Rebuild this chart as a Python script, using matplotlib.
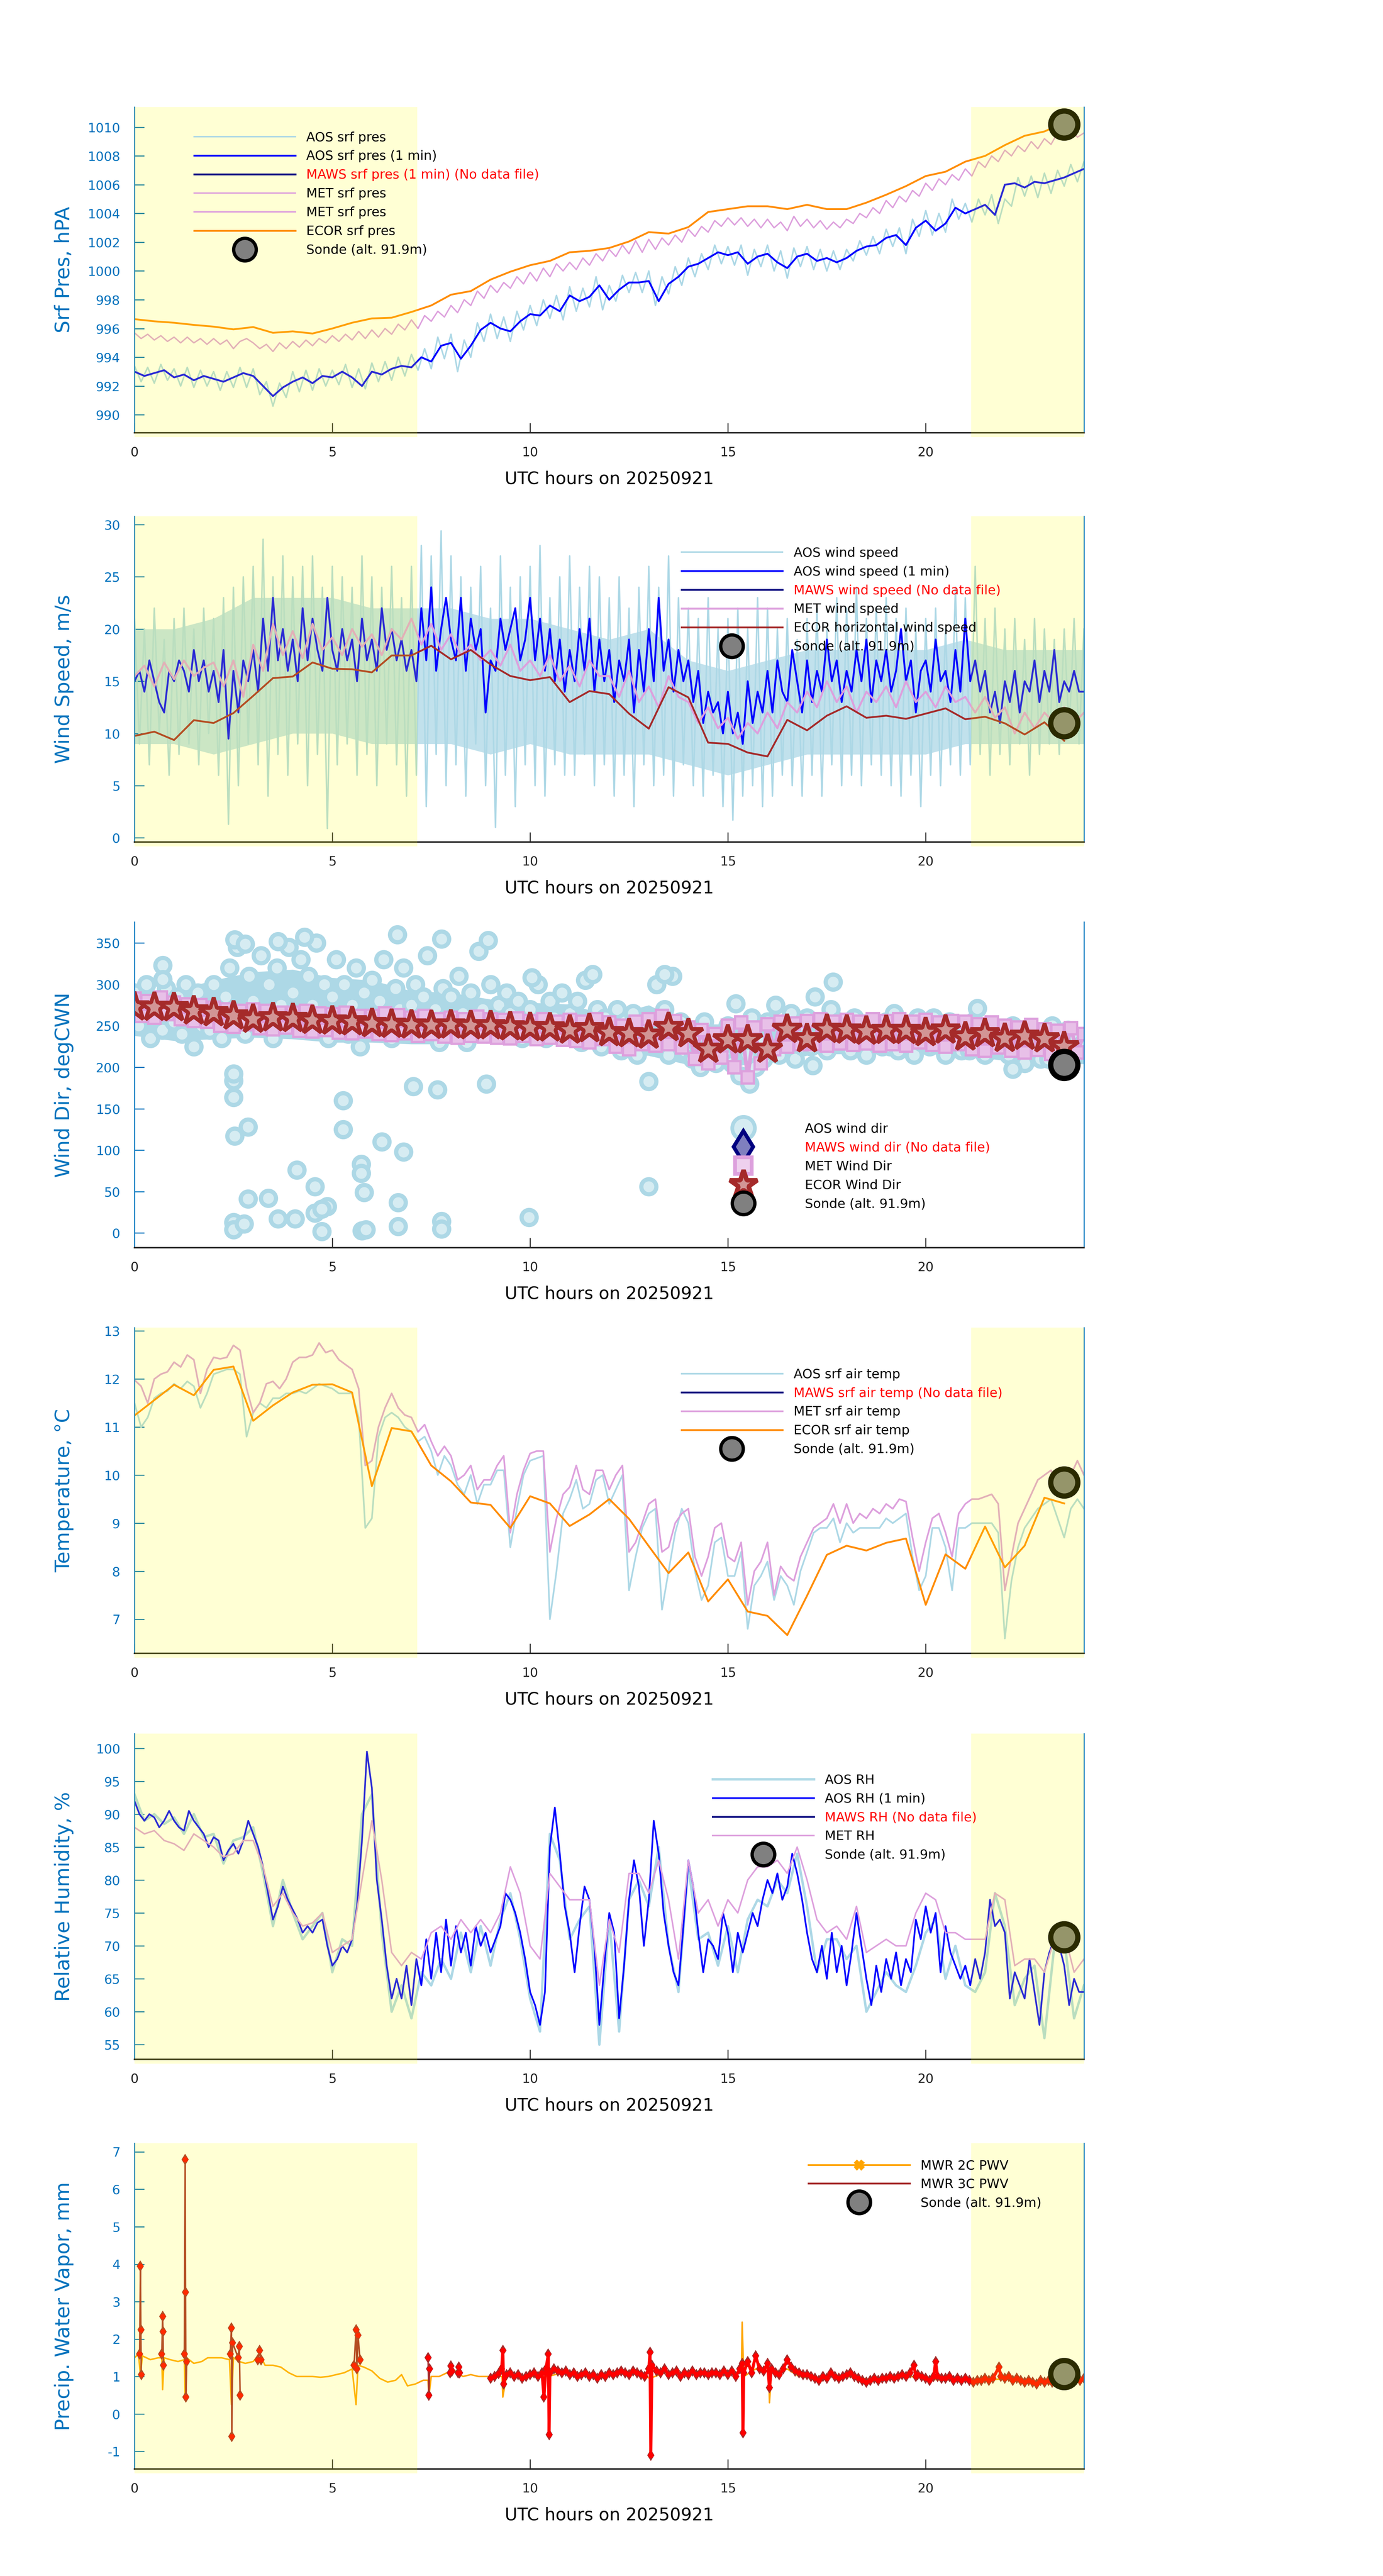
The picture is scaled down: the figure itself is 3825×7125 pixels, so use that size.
import numpy as np
import matplotlib
matplotlib.use("Agg")
import matplotlib.pyplot as plt
from matplotlib.lines import Line2D

plt.rcParams["axes.unicode_minus"] = False
nan = np.nan

# ---------------- data ----------------
night = [(0.0, 7.15), (21.15, 24.0)]
sonde_t = 23.5

# surface pressure, hPa
aos_pres = [993.4, 992.3, 993.3, 992.2, 993.5, 992.4,
            993.2, 992.0, 993.3, 991.9, 993.1, 992.0,
            993.0, 991.7, 993.0, 991.9, 993.3, 991.9,
            993.2, 991.4, 992.3, 990.6, 992.2, 991.2,
            993.0, 991.6, 993.1, 991.7, 993.2, 992.0,
            993.1, 992.1, 993.5, 991.9, 993.2, 991.8,
            993.6, 992.3, 993.7, 992.4, 994.0, 992.7,
            994.2, 993.1, 994.6, 993.2, 995.4, 993.9,
            995.6, 993.0, 995.2, 994.0, 996.4, 995.1,
            997.0, 995.3, 996.8, 995.1, 997.2, 995.9,
            997.6, 996.2, 998.0, 996.7, 998.3, 996.6,
            998.9, 997.2, 998.8, 997.5, 999.6, 997.3,
            999.0, 997.9, 999.7, 998.5, 999.9, 998.5,
            1000.0, 997.6, 999.6, 998.4, 1000.3, 999.0,
            1000.9, 999.6, 1001.2, 1000.1, 1001.8, 1000.5,
            1001.7, 1000.4, 1001.8, 999.7, 1001.5, 1000.3,
            1001.8, 1000.0, 1001.4, 999.5, 1001.6, 1000.3,
            1001.7, 1000.1, 1001.5, 1000.0, 1001.4, 1000.1,
            1001.5, 1000.7, 1002.1, 1001.1, 1002.4, 1001.2,
            1002.9, 1001.7, 1003.0, 1001.2, 1003.6, 1002.4,
            1004.2, 1002.5, 1004.0, 1002.7, 1005.0, 1003.6,
            1004.7, 1003.4, 1005.0, 1003.9, 1005.3, 1003.3,
            1005.0, 1004.5, 1006.5, 1005.2, 1006.6, 1005.1,
            1006.8, 1005.4, 1007.0, 1005.9, 1007.4, 1006.2, 1007.6]
aos_pres_1min = [993.0, 992.7, 992.9, 993.1, 992.6, 992.8, 992.4, 992.7,
                 992.5, 992.3, 992.6, 992.9, 992.7, 992.0, 991.3, 991.9,
                 992.3, 992.6, 992.2, 992.7, 992.6, 993.0, 992.6, 992.0,
                 993.0, 992.8, 993.2, 993.4, 993.3, 994.0, 993.7, 994.8,
                 995.0, 993.9, 994.8, 995.9, 996.4, 996.0, 995.8, 996.5,
                 997.0, 996.9, 997.6, 997.2, 998.3, 997.9, 998.2, 999.0,
                 998.0, 998.7, 999.2, 999.2, 999.3, 997.9, 999.1, 999.6,
                 1000.3, 1000.5, 1000.9, 1001.3, 1001.1, 1001.3, 1000.5, 1001.0,
                 1001.2, 1000.6, 1000.2, 1001.0, 1001.2, 1000.7, 1000.9, 1000.6,
                 1000.9, 1001.4, 1001.7, 1001.8, 1002.3, 1002.5, 1001.8, 1003.0,
                 1003.5, 1002.8, 1003.3, 1004.4, 1004.0, 1004.3, 1004.6, 1003.9,
                 1006.0, 1006.1, 1005.8, 1006.2, 1006.1, 1006.3, 1006.5, 1006.8,
                 1007.1]
met_pres = [995.7, 995.3, 995.6, 995.2, 995.5, 995.1,
            995.4, 995.0, 995.4, 995.0, 995.3, 994.9,
            995.3, 994.9, 995.2, 994.6, 995.1, 995.3,
            995.0, 994.6, 994.9, 994.4, 995.0, 994.6,
            995.1, 994.7, 995.2, 994.8, 995.3, 995.0,
            995.5, 995.1, 995.6, 995.2, 995.8, 995.3,
            995.9, 995.4, 996.0, 995.6, 996.3, 995.9,
            996.6, 996.0, 996.9, 996.5, 997.2, 996.8,
            997.6, 997.1, 998.0, 997.6, 998.6, 998.1,
            999.0, 998.5, 999.2, 998.8, 999.6, 999.1,
            999.9, 999.3, 1000.2, 999.6, 1000.5, 1000.0,
            1000.6, 1000.1, 1000.9, 1000.4, 1001.2, 1000.7,
            1001.5, 1001.0, 1001.8, 1001.2, 1002.1, 1001.3,
            1002.2, 1001.5, 1002.3, 1001.8, 1002.5, 1002.0,
            1002.9, 1002.4, 1003.1, 1002.7, 1003.5, 1003.1,
            1003.7, 1003.2, 1003.7, 1003.1, 1003.6, 1003.0,
            1003.6, 1003.0, 1003.4, 1002.8, 1003.8, 1003.1,
            1003.6, 1003.0, 1003.5, 1002.9, 1003.4, 1003.0,
            1003.6, 1003.3, 1004.0, 1003.7, 1004.4, 1004.0,
            1004.9, 1004.4, 1005.2, 1004.8, 1005.6, 1005.2,
            1006.1, 1005.6, 1006.4, 1006.0, 1006.7, 1006.3,
            1007.1, 1006.6, 1007.6, 1007.2, 1008.0, 1007.6,
            1008.4, 1008.0, 1008.7, 1008.3, 1009.0, 1008.5,
            1009.2, 1008.8, 1009.6, 1009.2, 1009.9, 1009.3, 1009.6]
ecor_pres = [996.65, 996.5, 996.4, 996.25, 996.13, 995.94, 996.1, 995.7,
             995.8, 995.65, 996.0, 996.4, 996.7, 996.75, 997.15, 997.6,
             998.35, 998.6, 999.4, 999.95, 1000.4, 1000.7, 1001.3, 1001.4,
             1001.6, 1002.05, 1002.7, 1002.6, 1003.05, 1004.1, 1004.3, 1004.5,
             1004.5, 1004.3, 1004.6, 1004.3, 1004.3, 1004.75, 1005.3, 1005.9,
             1006.6, 1006.9, 1007.6, 1008.0, 1008.75, 1009.4, 1009.7, 1010.3]
sonde_pres = 1010.2

# wind speed, m/s
aos_ws = [21, 9, 20, 7, 22, 10, 19, 6,
          21, 8, 22, 9, 20, 7, 22, 10,
          21, 6, 23, 1.3, 24, 5, 25, 9,
          26, 7, 28.6, 4, 25, 8, 27, 6,
          25, 9, 26, 5, 27, 8, 24, 0.9,
          26, 7, 25, 9, 24, 6, 27, 8,
          25, 5, 24, 9, 26, 7, 23, 4,
          26, 6, 28, 3, 27, 8, 29.4, 5,
          27, 7, 25, 4, 24, 9, 26, 5,
          22, 1, 27, 6, 24, 3, 25, 7,
          26, 5, 28, 4, 23, 7, 25, 6,
          27, 6, 24, 8, 26, 5, 25, 7,
          23, 4, 25, 6, 22, 3, 24, 7,
          26, 5, 24, 6, 27, 4, 23, 7,
          22, 5, 21, 4, 23, 6, 20, 3,
          21, 1.7, 22, 4, 20, 5, 23, 3,
          22, 4, 20, 6, 21, 5, 19, 4,
          21, 6, 22, 4, 20, 7, 23, 5,
          22, 6, 24, 5, 21, 7, 22, 6,
          23, 5, 21, 4, 22, 6, 20, 3,
          21, 6, 22, 5, 20, 7, 24, 6,
          23, 7, 26, 8, 21, 6, 22, 8,
          20, 7, 21, 9, 19, 6, 21, 8,
          20, 9, 19, 8, 20, 10, 21, 9, 20]
# dense core of the 1 s wind speed trace (hourly low / high)
aos_ws_core_lo = [9, 9, 8, 9, 10, 10, 9, 9, 9, 8, 9, 8, 8,
                  8, 7, 6, 7, 8, 8, 8, 8, 9, 9, 9, 9]
aos_ws_core_hi = [20, 20, 21, 23, 23, 23, 22, 22, 22, 21, 21, 20, 19,
                  20, 17, 16, 17, 18, 18, 18, 18, 19, 18, 18, 18]
aos_ws_1min = [15, 16, 14, 17, 15, 13, 12, 16,
               15, 17, 16, 14, 18, 15, 17, 14,
               16, 13, 18, 9.5, 16, 12, 17, 15,
               18, 14, 21, 16, 23, 17, 20, 16,
               19, 15, 22, 17, 21, 18, 16, 23,
               18, 16, 20, 17, 19, 15, 21, 17,
               19, 16, 22, 18, 20, 17, 19, 16,
               18, 15, 22, 17, 24, 16, 20, 23,
               19, 17, 23, 16, 21, 18, 20, 12,
               17, 16, 21, 18, 20, 22, 17, 19,
               23, 17, 21, 16, 20, 15, 19, 14,
               18, 15, 20, 16, 21, 14, 19, 15,
               18, 13, 17, 15, 19, 12, 18, 14,
               20, 15, 23, 16, 19, 14, 18, 15,
               17, 13, 16, 11, 14, 12, 13, 10,
               14, 10, 12, 9, 15, 11, 14, 12,
               16, 12, 17, 14, 13, 18, 15, 12,
               17, 13, 16, 14, 19, 15, 17, 13,
               16, 14, 18, 15, 19, 13, 17, 15,
               18, 14, 16, 20, 15, 17, 12, 16,
               17, 14, 19, 15, 16, 13, 18, 14,
               21, 15, 17, 14, 16, 12, 14, 11,
               15, 13, 16, 12, 15, 14, 17, 13,
               16, 14, 18, 13, 15, 14, 16, 14, 14]
met_ws = [15.5, 16.5, 14.5, 16.8, 15.2, 17.0, 15.5, 16.3,
          16.8, 14.5, 17.0, 13.5, 18.5, 16.0, 20.5, 17.5,
          19.8, 17.2, 20.5, 18.0, 19.2, 17.5, 20.0, 18.3,
          19.5, 17.5, 20.0, 19.0, 21.0, 18.5, 20.5, 18.0,
          19.5, 17.5, 18.5, 17.0, 18.0, 16.5, 18.5, 16.0,
          17.0, 15.5, 17.5, 15.0, 16.5, 14.5, 17.0, 15.5,
          15.5, 13.5, 16.0, 13.0, 14.5, 12.5, 15.5, 13.5,
          13.0, 11.0, 12.5, 10.5, 11.5, 9.5, 11.0, 10.0,
          12.0, 10.5, 13.0, 12.0, 14.0, 12.5, 15.0, 13.0,
          14.5, 12.0, 14.0, 13.0, 14.5, 12.5, 15.0, 13.0,
          14.0, 12.5, 14.5, 13.0, 13.5, 12.0, 13.5, 11.5,
          12.5, 10.0, 12.0, 10.5, 12.0, 11.0, 12.5, 11.0, 12.0]
ecor_ws = [9.76, 10.17, 9.37, 11.27, 11.0, 11.95, 13.6, 15.3, 15.45, 16.8,
           16.2, 16.15, 15.85, 17.47, 17.47, 18.4, 17.1, 18.0, 16.6, 15.5,
           15.1, 15.4, 13.0, 14.06, 13.77, 11.9, 10.46, 14.43, 13.45, 9.12,
           9.0, 8.17, 7.8, 11.3, 10.3, 11.7, 12.6, 11.5, 11.7, 11.4,
           11.9, 12.4, 11.36, 11.6, 10.97, 9.9, 11.07, 9.3]
sonde_ws = 11.0

# wind direction, deg
aos_dir = [290, 250, 270, 300, 235, 280, 260, 245, 295, 265,
           255, 285, 240, 300, 270, 225, 290, 250, 275, 245,
           300, 260, 235, 285, 320, 250, 345, 270, 240, 310,
           280, 250, 335, 265, 300, 235, 320, 275, 255, 345,
           290, 260, 330, 245, 310, 275, 350, 250, 300, 235,
           285, 330, 255, 300, 240, 275, 320, 225, 290, 260,
           305, 245, 280, 330, 260, 235, 295, 270, 320, 250,
           275, 300, 240, 285, 335, 255, 270, 230, 295, 260,
           285, 245, 310, 265, 230, 290, 255, 340, 270, 240,
           300, 255, 275, 240, 290, 265, 250, 280, 235, 260,
           270, 245, 300, 255, 235, 280, 260, 240, 290, 250,
           265, 240, 280, 230, 305, 255, 245, 270, 225, 260,
           250, 235, 270, 220, 255, 240, 265, 215, 245, 230,
           260, 225, 300, 240, 270, 215, 310, 235, 255, 220,
           245, 210, 235, 200, 255, 220, 240, 205, 230, 215,
           250, 205, 235, 190, 245, 215, 260, 200, 230, 210,
           255, 220, 275, 215, 245, 230, 265, 210, 250, 225,
           260, 225, 285, 235, 250, 220, 270, 240, 255, 230,
           250, 220, 260, 230, 245, 215, 255, 235, 240, 225,
           255, 225, 265, 220, 245, 235, 250, 215, 260, 230,
           250, 225, 260, 235, 245, 215, 255, 230, 240, 220,
           245, 220, 255, 230, 240, 215, 250, 225, 235, 245,
           240, 215, 250, 225, 235, 205, 245, 220, 230, 210,
           240, 210, 250, 220, 230, 200, 245, 215, 235, 225, 230]
# dense core of the AOS wind direction cloud (hourly low / high)
aos_dir_core_lo = [238, 232, 234, 236, 234, 230, 230, 228, 228, 230, 230, 227,
                   218, 214, 203, 198, 210, 216, 216, 216, 216, 214, 208, 204, 204]
aos_dir_core_hi = [292, 292, 305, 315, 318, 308, 305, 292, 290, 282, 278, 276,
                   262, 275, 252, 252, 262, 266, 260, 260, 258, 256, 250, 246, 244]
aos_dir_out_t = [0.71, 0.71, 2.5, 2.5, 2.5, 2.53, 2.87, 2.5, 2.5, 2.77, 2.87,
                 3.38, 3.63, 4.1, 4.06, 4.56, 4.56, 4.73, 4.87, 4.73, 5.27,
                 5.27, 5.73, 5.73, 5.8, 5.75, 5.85, 6.25, 6.8, 6.66, 6.66,
                 7.05, 7.66, 7.76, 7.76, 8.89, 9.97, 13.0, 13.0, 15.55, 17.15,
                 22.2, 6.64, 7.76, 8.94, 4.3, 3.63, 2.53, 2.8, 13.4, 11.58,
                 10.04, 17.66, 21.3, 15.2]
aos_dir_out = [323, 306, 164, 184, 192, 117, 128, 13, 4, 11, 41,
               42, 17, 76, 17, 56, 24, 2, 32, 29, 125,
               160, 83, 72, 49, 3, 4, 110, 98, 37, 8,
               177, 173, 14, 5, 180, 19, 56, 183, 180, 202,
               198, 360, 355, 353, 357, 352, 354, 349, 312, 312,
               308, 303, 271, 277]
met_dir = [283, 262, 280, 260, 284, 264,
           278, 258, 276, 256, 275, 255,
           272, 250, 270, 249, 268, 252,
           270, 247, 268, 246, 266, 248,
           266, 244, 268, 243, 265, 245,
           264, 242, 266, 241, 262, 243,
           262, 240, 265, 239, 263, 241,
           260, 238, 262, 240, 258, 237,
           260, 236, 258, 238, 261, 237,
           258, 236, 257, 235, 259, 238,
           256, 234, 258, 236, 255, 233,
           257, 232, 255, 230, 258, 234,
           254, 225, 250, 222, 255, 228,
           258, 226, 262, 228, 256, 224,
           248, 210, 245, 205, 240, 212,
           250, 200, 254, 188, 248, 205,
           252, 222, 255, 225, 253, 228,
           256, 228, 258, 226, 255, 229,
           257, 227, 255, 229, 258, 226,
           256, 228, 258, 226, 255, 230,
           257, 227, 254, 225, 256, 228,
           255, 222, 252, 220, 254, 224,
           250, 220, 248, 218, 251, 221,
           246, 216, 244, 215, 247, 218, 240]
ecor_dir = [273, 272.5, 272, 268, 266, 262, 258, 259.6, 259, 256.6, 256, 255,
            253, 252, 251, 250.5, 251, 250, 250, 249, 248, 247.4, 245, 246.8,
            242, 240.7, 239, 248, 240.7, 222, 233, 233, 222, 246, 234.6, 246,
            245, 243.7, 244.6, 244.6, 242, 245, 236.7, 240.7, 235, 237.6, 234.6, 225]
sonde_dir = 203

# air temperature, degC
aos_temp = [11.5, 11.0, 11.2, 11.6, 11.7, 11.75,
            11.9, 11.8, 11.95, 11.85, 11.4, 11.7,
            12.1, 12.15, 12.2, 12.2, 12.1, 10.8,
            11.3, 11.5, 11.4, 11.6, 11.6, 11.7,
            11.7, 11.75, 11.7, 11.8, 11.9, 11.85,
            11.8, 11.7, 11.7, 11.7, 11.2, 8.9,
            9.1, 10.8, 11.2, 11.3, 11.2, 11.0,
            10.9, 10.7, 10.8, 10.5, 10.0, 10.4,
            10.2, 9.8, 9.6, 10.0, 9.4, 9.8,
            9.8, 10.1, 10.1, 8.5, 9.3, 10.0,
            10.3, 10.35, 10.4, 7.0, 8.0, 9.2,
            9.5, 9.9, 9.3, 9.4, 9.9, 10.0,
            9.4, 9.7, 10.0, 7.6, 8.3, 8.9,
            9.2, 9.3, 7.2, 8.0, 8.8, 9.3,
            9.0, 8.0, 7.4, 7.7, 8.6, 8.7,
            7.9, 7.9, 8.4, 6.8, 7.7, 7.9,
            8.2, 7.4, 7.9, 7.7, 7.3, 8.0,
            8.4, 8.8, 8.9, 8.9, 9.1, 8.6,
            9.0, 8.8, 8.9, 8.9, 8.9, 8.9,
            9.1, 9.0, 9.1, 9.2, 8.3, 7.6,
            7.9, 8.9, 8.9, 8.5, 7.6, 8.9,
            8.9, 9.0, 9.0, 9.0, 9.0, 8.8,
            6.6, 7.8, 8.5, 8.9, 9.1, 9.3,
            9.4, 9.5, 9.1, 8.7, 9.3, 9.5, 9.3]
met_temp = [11.98, 11.85, 11.5, 12.0, 12.1, 12.15,
            12.35, 12.25, 12.5, 12.4, 11.7, 12.2,
            12.45, 12.42, 12.45, 12.7, 12.6, 11.8,
            11.3, 11.5, 11.9, 11.95, 11.8, 12.0,
            12.35, 12.45, 12.45, 12.5, 12.75, 12.55,
            12.6, 12.4, 12.3, 12.2, 11.8, 10.2,
            10.3, 11.0, 11.4, 11.7, 11.4, 11.25,
            11.2, 10.9, 11.05, 10.7, 10.4, 10.6,
            10.4, 9.9, 10.0, 10.2, 9.7, 9.9,
            9.9, 10.2, 10.4, 8.8, 9.6, 10.1,
            10.45, 10.5, 10.5, 8.4, 9.1, 9.6,
            9.75, 10.2, 9.7, 9.6, 10.1, 10.1,
            9.7, 10.0, 10.2, 8.4, 8.6, 9.0,
            9.4, 9.5, 8.4, 8.5, 9.0, 9.2,
            9.3, 8.3, 7.9, 8.3, 8.9, 9.0,
            8.3, 8.2, 8.6, 7.3, 8.0, 8.2,
            8.6, 7.5, 8.1, 7.9, 7.8, 8.3,
            8.6, 8.9, 9.0, 9.1, 9.4, 9.0,
            9.4, 9.0, 9.2, 9.1, 9.3, 9.2,
            9.4, 9.3, 9.5, 9.45, 8.7, 8.0,
            8.6, 9.1, 9.2, 8.8, 8.3, 9.2,
            9.4, 9.5, 9.5, 9.55, 9.6, 9.4,
            7.6, 8.3, 9.0, 9.3, 9.6, 9.9,
            10.0, 10.1, 9.8, 9.6, 10.0, 10.3, 10.0]
ecor_temp = [11.24, 11.56, 11.88, 11.66, 12.19, 12.26, 11.13, 11.45, 11.72, 11.88,
             11.89, 11.72, 9.77, 10.98, 10.91, 10.2, 9.87, 9.43, 9.38, 8.9,
             9.56, 9.41, 8.94, 9.18, 9.5, 9.09, 8.52, 7.96, 8.39, 7.37,
             7.83, 7.16, 7.07, 6.67, 7.49, 8.34, 8.53, 8.43, 8.59, 8.68,
             7.3, 8.35, 8.05, 8.93, 8.08, 8.53, 9.53, 9.41]
sonde_temp = 9.85

# relative humidity, %
aos_rh = [93, 89, 90, 88.5, 89.5, 87, 90, 86.5, 87, 82.5, 86, 86.5,
          88, 81, 73, 80, 75, 71, 73, 75, 66, 71, 70, 90,
          93, 72, 60, 64, 59, 66, 64, 68, 65, 72, 66, 73,
          67, 74, 78, 71, 62, 57, 87, 83, 71, 74, 76, 55,
          74, 57, 77, 80, 76, 85, 70, 63, 82, 71, 72, 67,
          73, 66, 74, 77, 76, 80, 78, 84, 76, 66, 71, 71,
          68, 70, 60, 63, 66, 64, 63, 67, 72, 74, 65, 70,
          64, 63, 66, 78, 73, 61, 65, 67, 56, 70, 71, 59, 64]
aos_rh_1min = [92, 90, 89, 90, 89.5, 88, 89, 90.5,
               89, 88, 87.5, 90.5, 89, 88, 87, 85,
               86.5, 86, 83, 84.5, 85.5, 84, 86, 89,
               87, 85, 82, 78, 74, 76, 79, 77,
               75.5, 74, 72, 73, 72, 73.5, 74, 70,
               67, 68, 70, 69, 71, 76, 86, 99.5,
               94, 80, 74, 67, 62, 65, 62, 67,
               61, 68, 64, 71, 65, 72, 66, 74,
               67, 73, 69, 72, 67, 73, 70, 72,
               69, 71, 73, 78, 77, 75, 72, 68,
               63, 61, 58, 63, 85, 91, 84, 76,
               72, 66, 73, 79, 77, 70, 58, 67,
               75, 72, 59, 67, 77, 83, 79, 70,
               77, 89, 84, 75, 70, 66, 64, 73,
               83, 79, 72, 66, 71, 70, 68, 75,
               72, 66, 72, 69, 72, 75, 73, 77,
               80, 78, 81, 77, 79, 84, 81, 77,
               72, 68, 66, 70, 65, 72, 66, 70,
               64, 69, 75, 70, 65, 61, 67, 63,
               68, 65, 69, 64, 68, 66, 74, 71,
               76, 72, 75, 66, 73, 69, 67, 65,
               67, 64, 68, 65, 69, 77, 73, 74,
               72, 62, 66, 64, 62, 68, 63, 58,
               66, 69, 71, 70, 67, 61, 65, 63, 63]
met_rh = [88, 87, 87.5, 86, 85.5, 84.5, 87, 86, 85, 83.5, 84, 86,
          86, 82, 76, 78, 75, 73, 73.5, 75, 69, 70, 71, 80,
          89, 80, 69, 67, 69, 68, 72, 73, 71, 74, 72, 74,
          72, 75, 82, 78, 70, 68, 81, 79, 77, 77, 77, 64,
          74, 69, 81, 81, 78, 83, 77, 68, 83, 75, 77, 73,
          77, 75, 80, 82, 82, 83, 81, 85, 80, 74, 72, 73,
          71, 76, 69, 70, 71, 70, 70, 75, 78, 77, 72, 72,
          71, 71, 71, 78, 77, 67, 68, 68, 66, 71, 72, 66, 68]
sonde_rh = 71.3

# precipitable water vapour, mm
mwr2c_t = [0.0, 0.1, 0.15, 0.2, 0.4, 0.6, 0.69, 0.71, 0.75, 0.9,
           1.1, 1.26, 1.28, 1.32, 1.5, 1.7, 1.85, 2.0, 2.2, 2.4,
           2.45, 2.5, 2.65, 2.8, 3.0, 3.16, 3.3, 3.5, 3.7, 3.9,
           4.1, 4.3, 4.5, 4.7, 4.9, 5.1, 5.3, 5.5, 5.6, 5.65,
           5.8, 6.0, 6.2, 6.4, 6.6, 6.75, 6.9, 7.1, 7.3, 7.42,
           7.44, 7.5, 7.7, 7.9, 8.1, 8.3, 8.5, 8.7, 8.9, 9.1,
           9.29, 9.31, 9.4, 9.7, 10.0, 10.46, 10.8, 11.2, 11.6, 12.0,
           12.4, 12.8, 13.03, 13.4, 13.8, 14.2, 14.6, 15.0, 15.34, 15.36,
           15.4, 15.7, 16.03, 16.05, 16.1, 16.5, 16.8, 17.2, 17.6, 18.0,
           18.4, 18.8, 19.2, 19.6, 20.0, 20.4, 20.8, 21.2, 21.6, 22.0,
           22.4, 22.8, 23.2, 23.6, 24.0]
mwr2c = [1.5, 1.6, 1.05, 1.55, 1.45, 1.5, 1.5, 0.65, 1.5, 1.45,
         1.4, 1.45, 0.45, 1.5, 1.35, 1.4, 1.5, 1.5, 1.5, 1.45,
         0.25, 1.5, 1.4, 1.35, 1.4, 1.6, 1.3, 1.3, 1.25, 1.1,
         1.0, 1.0, 1.0, 0.98, 1.0, 1.05, 1.1, 1.2, 0.25, 1.3,
         1.25, 1.15, 0.95, 0.85, 0.9, 1.05, 0.75, 0.8, 0.9, 0.9,
         0.45, 1.0, 1.0, 1.1, 1.15, 1.0, 1.05, 1.0, 1.0, 1.0,
         1.0, 0.45, 1.0, 1.05, 1.0, 1.0, 1.1, 1.05, 1.0, 1.05,
         1.1, 1.05, 0.95, 1.1, 1.05, 1.1, 1.05, 1.1, 1.1, 2.45,
         1.0, 1.2, 1.15, 0.3, 1.1, 1.2, 1.0, 0.95, 1.0, 1.0,
         0.95, 0.9, 0.95, 1.0, 0.95, 0.9, 0.95, 0.9, 0.9, 0.95,
         0.9, 0.85, 0.9, 0.9, 0.95]
# MWR 3C: short bursts before 9 UTC, continuous afterwards
mwr3c_t = [0.13, 0.15, 0.16, 0.17, nan, 0.69, 0.71, 0.72, 0.73, nan,
           1.26, 1.28, 1.29, 1.30, 1.32, nan, 2.42, 2.45, 2.46, 2.48,
           2.62, 2.65, 2.67, nan, 3.12, 3.16, 3.2, nan, 5.55, 5.6,
           5.62, 5.65, 5.7, nan, 7.42, 7.44, 7.46, nan, 7.98, 8.0,
           8.02, nan, 8.18, 8.2, 8.22, nan,
           9.0, 9.1, 9.2, 9.28, 9.31, 9.33, 9.4, 9.5, 9.6, 9.7,
           9.8, 9.9, 10.0, 10.1, 10.2, 10.3, 10.35, 10.4, 10.46, 10.48,
           10.5, 10.6, 10.7, 10.8, 10.9, 11.0, 11.1, 11.2, 11.3, 11.4,
           11.5, 11.6, 11.7, 11.8, 11.9, 12.0, 12.1, 12.2, 12.3, 12.4,
           12.5, 12.6, 12.7, 12.8, 12.9, 13.0, 13.03, 13.05, 13.08, 13.2,
           13.3, 13.4, 13.5, 13.6, 13.7, 13.8, 13.9, 14.0, 14.1, 14.2,
           14.3, 14.4, 14.5, 14.6, 14.7, 14.8, 14.9, 15.0, 15.1, 15.2,
           15.3, 15.36, 15.38, 15.4, 15.5, 15.6, 15.7, 15.8, 15.9, 16.0,
           16.05, 16.1, 16.2, 16.3, 16.4, 16.5, 16.6, 16.7, 16.8, 16.9,
           17.0, 17.1, 17.2, 17.3, 17.4, 17.5, 17.6, 17.7, 17.8, 17.9,
           18.0, 18.1, 18.2, 18.3, 18.4, 18.5, 18.6, 18.7, 18.8, 18.9,
           19.0, 19.1, 19.2, 19.3, 19.4, 19.5, 19.6, 19.7, 19.75, 19.8,
           19.9, 20.0, 20.1, 20.2, 20.25, 20.3, 20.4, 20.5, 20.6, 20.7,
           20.8, 20.9, 21.0, 21.1, 21.2, 21.3, 21.4, 21.5, 21.6, 21.7,
           21.85, 21.9, 22.0, 22.1, 22.2, 22.3, 22.4, 22.5, 22.6, 22.7,
           22.8, 22.9, 23.0, 23.1, 23.2, 23.3, 23.4, 23.5, 23.6, 23.7,
           23.8, 23.9, 24.0]
mwr3c = [1.6, 3.95, 2.25, 1.05, nan, 1.6, 2.6, 2.2, 1.3, nan,
         1.6, 6.8, 3.25, 0.45, 1.4, nan, 1.6, 2.3, -0.6, 1.9,
         1.5, 1.8, 0.5, nan, 1.45, 1.7, 1.45, nan, 1.3, 2.25,
         1.2, 2.1, 1.45, nan, 1.5, 0.5, 1.2, nan, 1.1, 1.28,
         1.15, nan, 1.1, 1.25, 1.1, nan,
         0.95, 1.0, 1.08, 1.2, 1.7, 0.8, 1.05, 1.1, 1.0, 1.05,
         0.95, 1.0, 1.05, 1.1, 1.0, 1.1, 0.45, 1.2, 1.6, -0.55,
         1.1, 1.2, 1.15, 1.1, 1.15, 1.05, 1.1, 1.0, 1.05, 1.1,
         1.0, 1.05, 0.95, 1.05, 1.0, 1.1, 1.05, 1.1, 1.15, 1.1,
         1.05, 1.15, 1.1, 1.05, 1.0, 1.2, 1.65, -1.1, 1.3, 1.15,
         1.1, 1.2, 1.05, 1.1, 1.15, 1.0, 1.1, 1.05, 1.15, 1.05,
         1.1, 1.1, 1.05, 1.1, 1.1, 1.05, 1.15, 1.05, 1.15, 1.0,
         1.2, 1.35, -0.5, 1.1, 1.4, 1.1, 1.55, 1.2, 1.15, 1.35,
         0.7, 1.2, 1.1, 1.05, 1.2, 1.45, 1.25, 1.15, 1.1, 1.05,
         1.05, 1.0, 0.95, 0.9, 1.0, 0.95, 1.1, 1.0, 0.95, 1.0,
         1.05, 1.1, 1.0, 0.95, 0.9, 0.85, 0.9, 0.95, 0.9, 0.95,
         0.95, 1.0, 0.95, 1.0, 1.05, 1.0, 1.1, 1.3, 1.0, 1.05,
         1.0, 0.95, 0.9, 1.0, 1.4, 1.0, 0.95, 0.95, 1.0, 0.9,
         0.95, 0.9, 0.95, 0.9, 0.85, 0.9, 0.9, 0.95, 0.9, 0.95,
         1.25, 1.0, 0.95, 1.0, 0.9, 0.95, 0.9, 0.85, 0.9, 0.85,
         0.8, 0.9, 0.85, 0.9, 0.85, 0.9, 0.92, 0.9, 0.85, 0.9,
         0.95, 0.9, 0.95]
mwr3c_cont_start = 46   # index where the continuous 3C record begins
sonde_pwv = 1.07

# ---------------- styling ----------------
AXBLUE = "#0072BD"
LIGHTBLUE = "#ADD8E6"
PLUM = "#DDA0DD"
NAVY = "#000080"
BROWN = "#A52A2A"


def hours(vals):
    return np.linspace(0, 24, len(vals))


def half_hours(vals):
    return np.arange(len(vals)) * 0.5


def style(ax, ylim, yticks, ylabel):
    ax.set_xlim(0, 24)
    ax.set_ylim(*ylim)
    ax.set_yticks(yticks)
    ax.set_xticks([0, 5, 10, 15, 20])
    ax.spines["top"].set_visible(False)
    for s in ("left", "right"):
        ax.spines[s].set_color(AXBLUE)
        ax.spines[s].set_linewidth(0.7)
    ax.spines["bottom"].set_color("#222222")
    ax.spines["bottom"].set_linewidth(1.0)
    ax.tick_params(axis="y", direction="in", length=6.5, width=0.7,
                   color=AXBLUE, labelcolor=AXBLUE, labelsize=8.5, pad=9.5)
    ax.tick_params(axis="x", direction="in", length=6.5, width=0.7,
                   color="#333333", labelcolor="#222222", labelsize=8.5, pad=9)
    ax.set_xlabel("UTC hours on 20250921", fontsize=11.5, labelpad=8)
    ax.set_ylabel(ylabel, fontsize=13.3, color=AXBLUE)
    ax.yaxis.set_label_coords(-0.064, 0.5)


def shade(ax):
    for a, b in night:
        ax.axvspan(a, b, ymin=-0.013, ymax=1, color="yellow", alpha=0.17,
                   lw=0, zorder=3, clip_on=False)


def sonde(ax, y):
    ax.plot([sonde_t], [y], "o", ms=18, mfc="#808080", mec="k", mew=3.5,
            zorder=2.8, clip_on=False)


sonde_h = Line2D([], [], ls="none", marker="o", ms=15, mfc="#808080",
                 mec="k", mew=2.2)
sonde_lbl = "Sonde (alt. 91.9m)"


def add_legend(ax, handles, labels, x, y):
    leg = ax.legend(handles, labels, loc="upper left", bbox_to_anchor=(x, y),
                    frameon=False, fontsize=8.6, handlelength=7.8,
                    handletextpad=0.85, labelspacing=0.5, borderpad=0,
                    borderaxespad=0, numpoints=1)
    leg.set_zorder(6)
    for txt in leg.get_texts():
        if "No data file" in txt.get_text():
            txt.set_color("red")


W, H = 3825, 7125
fig = plt.figure(figsize=(W / 300, H / 300), dpi=300)
tops = [296, 1428, 2550, 3672, 4795, 5928]
axs = [fig.add_axes([372 / W, 1 - (t + 901) / H, 2626 / W, 901 / H]) for t in tops]

# --- 1: surface pressure
ax = axs[0]
l1, = ax.plot(hours(aos_pres), aos_pres, color=LIGHTBLUE, lw=1.0)
l2, = ax.plot(hours(aos_pres_1min), aos_pres_1min, color="blue", lw=1.2)
l3, = ax.plot([], [], color=NAVY, lw=1.2)
l4, = ax.plot(hours(met_pres), met_pres, color=PLUM, lw=0.9)
l5, = ax.plot([], [], color=PLUM, lw=1.0)
l6, = ax.plot(half_hours(ecor_pres), ecor_pres, color="#FF8C00", lw=1.2)
sonde(ax, sonde_pres)
shade(ax)
style(ax, (988.75, 1011.4), np.arange(990, 1011, 2), "Srf Pres, hPA")
add_legend(ax, [l1, l2, l3, l4, l5, l6, sonde_h],
           ["AOS srf pres", "AOS srf pres (1 min)",
            "MAWS srf pres (1 min) (No data file)", "MET srf pres",
            "MET srf pres", "ECOR srf pres", sonde_lbl], 0.063, 0.925)

# --- 2: wind speed
ax = axs[1]
ax.fill_between(np.arange(len(aos_ws_core_lo)), aos_ws_core_lo, aos_ws_core_hi,
                color=LIGHTBLUE, lw=0, alpha=0.75)
l1, = ax.plot(hours(aos_ws), aos_ws, color=LIGHTBLUE, lw=1.0)
l2, = ax.plot(hours(aos_ws_1min), aos_ws_1min, color="blue", lw=1.2)
l3, = ax.plot([], [], color=NAVY, lw=1.2)
l4, = ax.plot(hours(met_ws), met_ws, color=PLUM, lw=1.3)
l5, = ax.plot(half_hours(ecor_ws), ecor_ws, color=BROWN, lw=1.2)
sonde(ax, sonde_ws)
shade(ax)
style(ax, (-0.4, 30.8), np.arange(0, 31, 5), "Wind Speed, m/s")
add_legend(ax, [l1, l2, l3, l4, l5, sonde_h],
           ["AOS wind speed", "AOS wind speed (1 min)",
            "MAWS wind speed (No data file)", "MET wind speed",
            "ECOR horizontal wind speed", sonde_lbl], 0.576, 0.906)

# --- 3: wind direction
ax = axs[2]
ax.fill_between(np.arange(len(aos_dir_core_lo)), aos_dir_core_lo, aos_dir_core_hi,
                color=LIGHTBLUE, lw=0)
ax.plot(hours(aos_dir), aos_dir, ls="none", marker="o", ms=10,
        mfc="#D6ECF2", mec=LIGHTBLUE, mew=2.8)
ax.plot(aos_dir_out_t, aos_dir_out, ls="none", marker="o", ms=10,
        mfc="#D6ECF2", mec=LIGHTBLUE, mew=2.8)
ax.plot(hours(met_dir), met_dir, color=PLUM, lw=2.5, marker="s", ms=8,
        mfc="#E8C0E8", mec=PLUM, mew=1.5)
ax.plot(half_hours(ecor_dir), ecor_dir, ls="none", marker="*", ms=20,
        mfc="#D29595", mec=BROWN, mew=2.5)
sonde(ax, sonde_dir)
style(ax, (-17.7, 375.4), np.arange(0, 351, 50), "Wind Dir, degCWN")
h_aos = Line2D([], [], ls="none", marker="o", ms=15, mfc="#D6ECF2",
               mec=LIGHTBLUE, mew=2.5)
h_maws = Line2D([], [], ls="none", marker="d", ms=15, mfc="#7F7FBF",
                mec=NAVY, mew=2.5)
h_met = Line2D([], [], ls="none", marker="s", ms=11, mfc="#EED0EE",
               mec=PLUM, mew=2.5)
h_ecor = Line2D([], [], ls="none", marker="*", ms=19, mfc="#D29595",
                mec=BROWN, mew=3)
add_legend(ax, [h_aos, h_maws, h_met, h_ecor, sonde_h],
           ["AOS wind dir", "MAWS wind dir (No data file)", "MET Wind Dir",
            "ECOR Wind Dir", sonde_lbl], 0.588, 0.383)

# --- 4: temperature
ax = axs[3]
l1, = ax.plot(hours(aos_temp), aos_temp, color=LIGHTBLUE, lw=1.1)
l2, = ax.plot([], [], color=NAVY, lw=1.2)
l3, = ax.plot(hours(met_temp), met_temp, color=PLUM, lw=1.1)
l4, = ax.plot(half_hours(ecor_temp), ecor_temp, color="#FF8C00", lw=1.2)
sonde(ax, sonde_temp)
shade(ax)
style(ax, (6.29, 13.07), np.arange(7, 14, 1), "Temperature, \u00b0C")
add_legend(ax, [l1, l2, l3, l4, sonde_h],
           ["AOS srf air temp", "MAWS srf air temp (No data file)",
            "MET srf air temp", "ECOR srf air temp", sonde_lbl], 0.576, 0.875)

# --- 5: relative humidity
ax = axs[4]
l1, = ax.plot(hours(aos_rh), aos_rh, color=LIGHTBLUE, lw=1.6)
l2, = ax.plot(hours(aos_rh_1min), aos_rh_1min, color="blue", lw=1.1)
l3, = ax.plot([], [], color=NAVY, lw=1.2)
l4, = ax.plot(hours(met_rh), met_rh, color=PLUM, lw=1.0)
sonde(ax, sonde_rh)
shade(ax)
style(ax, (52.77, 102.23), np.arange(55, 101, 5), "Relative Humidity, %")
add_legend(ax, [l1, l2, l3, l4, sonde_h],
           ["AOS RH", "AOS RH (1 min)", "MAWS RH (No data file)", "MET RH",
            sonde_lbl], 0.609, 0.876)

# --- 6: precipitable water vapour
ax = axs[5]
ax.plot(mwr2c_t, mwr2c, color="#FFA500", lw=1.0)
ax.plot(mwr3c_t, mwr3c, color=BROWN, lw=1.0, marker="d", ms=5.5, mew=0)
ax.plot(mwr3c_t[mwr3c_cont_start:], mwr3c[mwr3c_cont_start:], color="red", lw=2.0)
ax.plot(mwr3c_t, mwr3c, color="red", ls="none", marker="o", ms=3.5, mew=0)
sonde(ax, sonde_pwv)
shade(ax)
style(ax, (-1.47, 7.23), np.arange(-1, 8, 1), "Precip. Water Vapor, mm")
h_2c = Line2D([], [], color="#FFA500", lw=1.2, marker="X", ms=6)
h_3c = Line2D([], [], color=BROWN, lw=1.2)
add_legend(ax, [h_2c, h_3c, sonde_h],
           ["MWR 2C PWV", "MWR 3C PWV", sonde_lbl], 0.71, 0.95)

fig.savefig("out.png", dpi=300)
